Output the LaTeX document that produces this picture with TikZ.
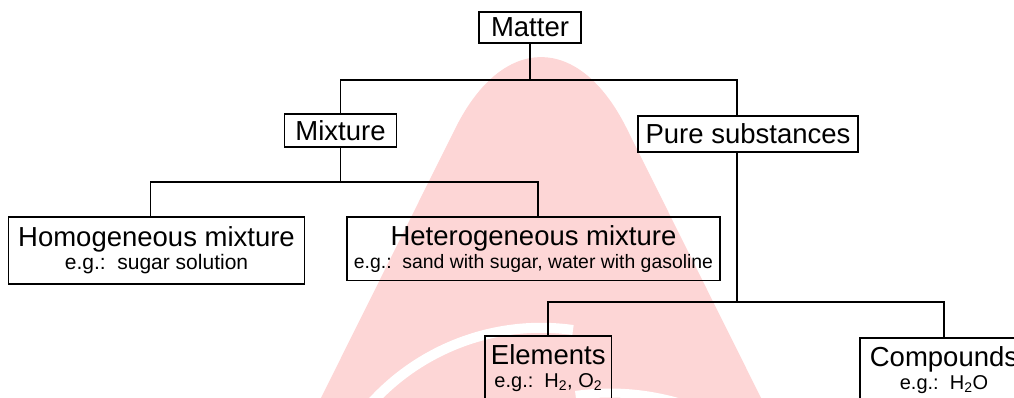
\documentclass[tikz,border=0pt]{standalone}
\usepackage{fontspec}
\setmainfont{Liberation Sans}
\usepackage{tikz}
\usetikzlibrary{positioning, calc}
\definecolor{wmpink}{RGB}{253,214,214}
\newcommand{\ttlfont}{\fontsize{27.5}{23}\selectfont}
\newcommand{\egfont}{\fontsize{20}{23}\selectfont}

\begin{document}
\begin{tikzpicture}[x=1pt, y=-1pt, every node/.style={transform shape}]
		\tikzstyle{catbox}=[draw=black, line width=1.8, inner sep=0pt, align=center, font=\ttlfont, text=black]
		\tikzstyle{link}=[draw=black, line width=1.8]
		
		\useasboundingbox (0,0) rectangle (1014,398);
		\clip (0,0) rectangle (1014,398);
		
		%% watermark behind the tree
		\fill [wmpink] (300,440) -- (455.6,127.8) .. controls (502.8,33.5) and (579.2,33.5) .. (626.4,127.8) -- (782,440) -- cycle;
		\draw [white, line width=10] (573,330) arc [start angle=-82, end angle=-142, radius=229];
		\draw [white, line width=9] (702.5,411) arc [start angle=-68, end angle=-98, radius=247];
		
		%%	top level
		\node [catbox, minimum width=102, minimum height=31] (M0) at (530,27.5) {Matter};
		\node [catbox, minimum width=112, minimum height=33] (M1) at (340.5,130.5) {Mixture};
		\node [catbox, minimum width=220, minimum height=36] (P1) at (748,134) {Pure substances};
		
		%%	mixtures
		\node [catbox, minimum width=296, minimum height=67] (M2) at (156.5,250.5) {Homogeneous mixture\\{\fontsize{21}{23}\selectfont e.g.:\ \ sugar solution}};
		\node [catbox, minimum width=373, minimum height=63.5] (M3) at (533.5,248.8) {Heterogeneous mixture\\{\fontsize{19.4}{23}\selectfont e.g.:\ \ sand with sugar, water with gasoline}};
		
		%%	pure substances
		\node [catbox, minimum width=126.5, minimum height=64] (P2) at (548.3,368) {Elements\\{\egfont e.g.:\ \ H\textsubscript{2}, O\textsubscript{2}}};
		\node [catbox, minimum width=168, minimum height=64] (P3) at (944,370) {Compounds\\{\egfont e.g.:\ \ H\textsubscript{2}O}};
		
		%%	branches
		\coordinate (J0) at (530,80);
		\coordinate (J1) at (340.5,182);
		\coordinate (J2) at (737,302);
		\draw [link] (M0) -- (J0);
		\draw [link] (M1.north) |- (J0) -| ([xshift=-11]P1.north);
		\draw [link] (M1) -- (J1);
		\draw [link] ([xshift=-6]M2.north) |- (J1) -| ([xshift=4.5]M3.north);
		\draw [link] ([xshift=-11]P1.south) -- (J2);
		\draw [link] (P2.north) |- (J2) -| (P3.north);
\end{tikzpicture}
\end{document}
